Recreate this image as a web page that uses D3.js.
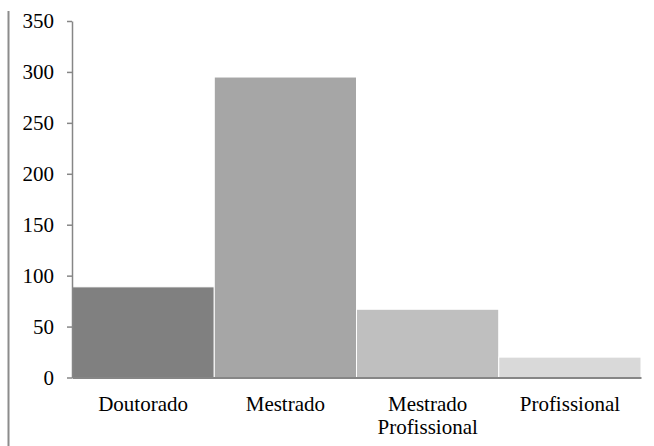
<!DOCTYPE html>
<html>
<head>
<meta charset="utf-8">
<script src="https://cdn.jsdelivr.net/npm/d3@7"></script>
<style>
  html, body { margin: 0; padding: 0; background: #fff; }
  svg { display: block; }
</style>
</head>
<body>
<svg id="chart" width="654" height="446"></svg>
<script>
// Programas por nível
const categories = ["Doutorado", "Mestrado", "Mestrado Profissional", "Profissional"];
const values = [89, 295, 67, 20];
const barColors = ["#808080", "#a6a6a6", "#bfbfbf", "#d9d9d9"];
const yTicks = [0, 50, 100, 150, 200, 250, 300, 350];

const FONT = "\"Liberation Serif\", \"Times New Roman\", serif";
const FONT_SIZE = "21px";

const svg = d3.select("#chart");
const margin = { left: 72, right: 13, top: 21, bottom: 68.5 };
const width = 654, height = 446;

const x = d3.scaleBand()
  .domain(categories)
  .range([margin.left, width - margin.right])
  .padding(0);

const y = d3.scaleLinear()
  .domain([0, 350])
  .range([height - margin.bottom, margin.top]);

// thin frame line at the far left
svg.append("line")
  .attr("x1", 8.5).attr("x2", 8.5)
  .attr("y1", 11).attr("y2", 446)
  .attr("stroke", "#8c8c8c").attr("stroke-width", 2);

// bars
svg.append("g").selectAll("rect")
  .data(categories)
  .join("rect")
  .attr("x", d => x(d))
  .attr("width", x.bandwidth())
  .attr("y", (d, i) => y(values[i]))
  .attr("height", (d, i) => y(0) - y(values[i]))
  .attr("fill", (d, i) => barColors[i])
  .attr("stroke", "#ffffff")
  .attr("stroke-width", 1);

// y axis
const yAxis = svg.append("g")
  .attr("transform", `translate(${margin.left},0)`)
  .call(d3.axisLeft(y).tickValues(yTicks).tickSize(5).tickPadding(13).tickSizeOuter(0));
yAxis.attr("font-family", null).attr("font-size", null);
yAxis.select(".domain").attr("stroke", "#868686").attr("stroke-width", 1.5);
yAxis.selectAll(".tick line").attr("stroke", "#868686").attr("stroke-width", 1.5);
yAxis.selectAll(".tick text")
  .style("font-family", FONT)
  .style("font-size", FONT_SIZE)
  .attr("fill", "#000");

// x axis baseline
const xAxis = svg.append("g")
  .attr("transform", `translate(0,${y(0)})`)
  .call(d3.axisBottom(x).tickSize(0).tickPadding(0));
xAxis.select(".domain").attr("stroke", "#868686").attr("stroke-width", 2);
xAxis.selectAll(".tick text").remove();

// category labels, wrapped on two lines where long
const labelLines = { "Mestrado Profissional": ["Mestrado", "Profissional"] };
const labels = svg.append("g").selectAll("text")
  .data(categories)
  .join("text")
  .attr("x", d => x(d) + x.bandwidth() / 2)
  .attr("y", 410.5)
  .attr("text-anchor", "middle")
  .style("font-family", FONT)
  .style("font-size", FONT_SIZE)
  .attr("fill", "#000");
labels.each(function(d) {
  const lines = labelLines[d] || [d];
  d3.select(this).selectAll("tspan")
    .data(lines)
    .join("tspan")
    .attr("x", x(d) + x.bandwidth() / 2)
    .attr("dy", (l, i) => i === 0 ? 0 : 23)
    .text(l => l);
});
</script>
</body>
</html>
